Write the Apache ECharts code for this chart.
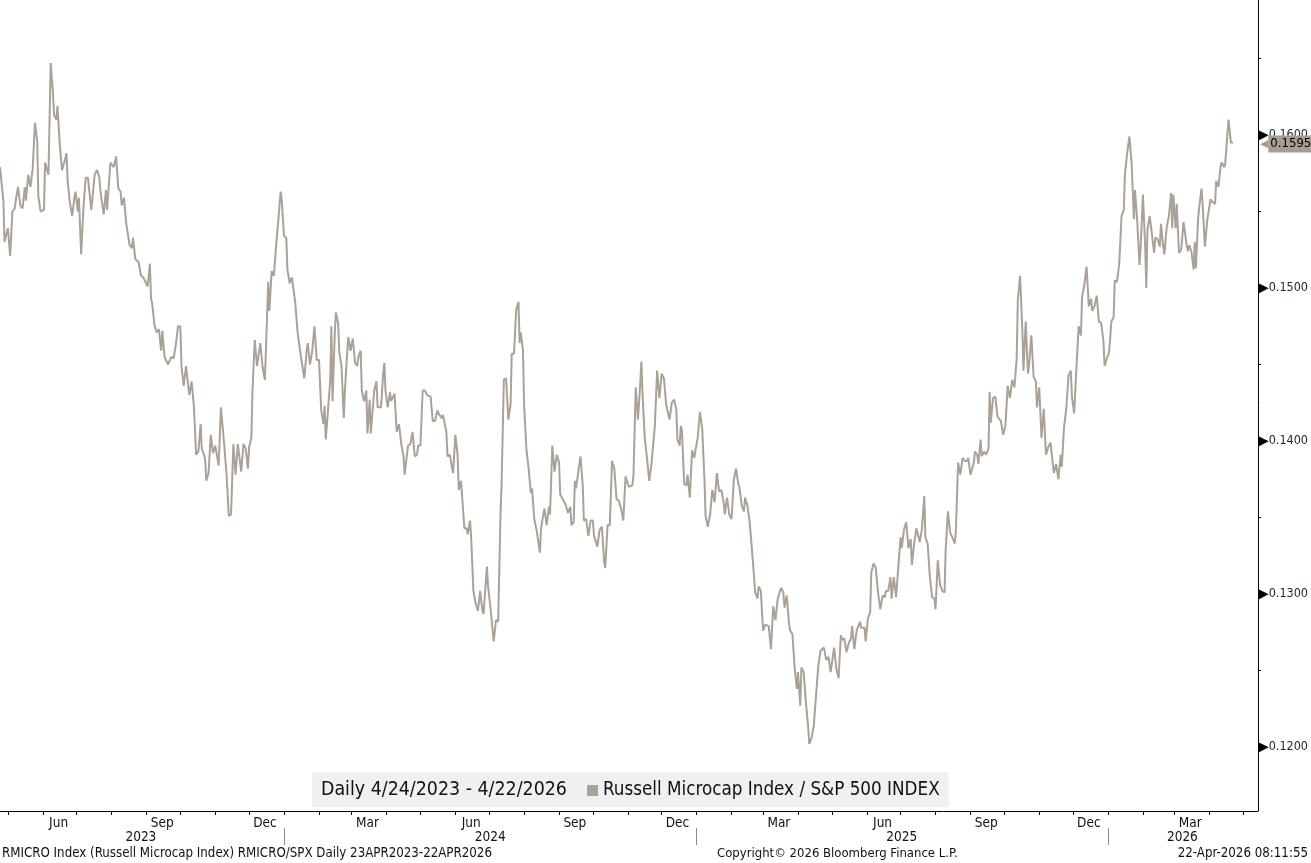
<!DOCTYPE html>
<html><head><meta charset="utf-8">
<script src="https://cdn.jsdelivr.net/npm/echarts@6/dist/echarts.min.js"></script>
<style>html,body{margin:0;padding:0;background:#fff}#c{width:1311px;height:863px}</style>
</head><body><div id="c"></div>
<script>
// x: calendar days after 2023-04-24 ; y: RMICRO/SPX ratio
const startDate = '2023-04-24';
const dayOffsets = [
  0,3,4,7,9,11,13,14,16,18,
  20,22,23,25,27,29,31,33,34,36,
  39,40,43,45,47,48,50,51,53,55,
  57,59,60,62,64,66,67,69,70,72,
  74,76,78,81,84,86,88,89,92,94,
  95,98,99,101,103,105,107,108,110,112,
  115,117,118,120,123,125,127,131,133,134,
  135,137,139,141,143,144,146,149,152,154,
  156,158,160,161,163,165,168,170,172,174,
  176,178,179,181,182,183,185,187,189,191,
  194,196,199,201,203,205,207,208,209,211,
  214,216,218,220,221,223,224,226,228,230,
  231,233,235,237,238,239,241,243,245,247,
  249,250,252,254,255,257,259,262,264,267,
  268,270,272,273,275,277,279,281,283,285,
  287,288,289,291,293,294,295,297,298,300,
  301,303,305,306,308,309,311,313,315,317,
  318,320,321,323,325,326,328,329,332,334,
  335,338,340,341,342,344,346,347,350,352,
  354,356,358,359,360,362,364,366,368,370,
  371,373,375,377,379,382,384,386,388,389,
  392,393,396,397,399,402,404,406,407,409,
  412,414,415,417,418,420,422,424,426,428,
  429,432,433,435,438,440,442,444,445,447,
  449,451,453,454,456,458,460,461,462,464,
  465,467,469,471,472,474,476,479,480,483,
  485,487,488,490,492,494,496,497,500,502,
  504,506,507,509,510,511,515,517,518,520,
  522,524,526,527,528,530,532,534,536,537,
  539,541,543,545,547,549,
  551,553,555,557,558,561,562,564,566,568,
  569,570,572,574,576,578,579,581,583,585,
  587,589,591,592,594,596,598,600,601,603,
  604,605,607,609,610,612,614,616,617,619,
  621,623,625,626,628,630,632,633,634,636,
  638,640,642,643,645,647,649,651,653,655,
  656,658,660,661,663,665,668,670,672,673,
  675,677,679,682,684,686,688,690,691,693,
  695,696,698,700,701,703,705,707,708,710,
  711,713,715,717,718,720,722,724,726,728,
  729,731,733,735,737,738,740,742,744,746,
  747,749,751,753,755,756,758,760,763,764,
  767,768,770,772,773,775,777,779,781,783,
  785,786,788,790,791,793,795,797,799,800,
  802,804,806,808,809,811,813,816,818,820,
  821,823,825,827,829,830,832,834,836,838,
  839,841,843,845,847,848,850,852,854,856,
  858,859,861,864,865,867,868,870,871,873,
  875,877,878,879,881,883,885,886,888,890,
  892,894,896,898,900,902,903,905,907,908,
  910,912,913,915,917,919,920,922,924,926,
  928,930,932,933,935,937,939,941,942,944,
  946,948,950,951,953,955,957,959,960,962,
  964,966,968,969,971,973,975,977,979,980,
  982,984,986,988,989,991,993,995,997,998,
  1000,1002,1004,1006,1007,1009,1011,1012,1014,1016,
  1017,1018,1020,1022,1024,1025,1027,1029,1030,1032,
  1033,1035,1037,1039,1040,1041,1043,1044,1046,1048,
  1050,1051,1053,1054,1055,1057,1059,1060,1061,1063,
  1064,1066,1067,1069,1071,1072,1074,1076,1078,1079,
  1081,1083,1084,1086,1087,1089,1090,1092,1094
];
const ratio = [
  0.1579,0.1557,0.1530,0.1539,0.1521,0.1550,0.1552,0.1557,0.1566,0.1554,
  0.1552,0.1566,0.1557,0.1574,0.1566,0.1578,0.1608,0.1596,0.1560,0.1550,
  0.1551,0.1582,0.1574,0.1647,0.1627,0.1613,0.1610,0.1619,0.1594,0.1577,
  0.1582,0.1588,0.1570,0.1556,0.1547,0.1559,0.1563,0.1550,0.1559,0.1522,
  0.1552,0.1572,0.1572,0.1551,0.1574,0.1577,0.1573,0.1564,0.1548,0.1564,
  0.1551,0.1582,0.1581,0.1579,0.1586,0.1565,0.1563,0.1554,0.1559,0.1542,
  0.1528,0.1526,0.1533,0.1519,0.1517,0.1508,0.1507,0.1501,0.1516,0.1493,
  0.1490,0.1476,0.1471,0.1473,0.1459,0.1472,0.1455,0.1450,0.1455,0.1454,
  0.1463,0.1475,0.1475,0.1449,0.1436,0.1449,0.1430,0.1439,0.1423,0.1391,
  0.1393,0.1411,0.1395,0.1391,0.1388,0.1374,0.1379,0.1404,0.1392,0.1397,
  0.1384,0.1422,0.1397,0.1378,0.1351,0.1352,0.1398,0.1397,0.1378,0.1398,
  0.1380,0.1398,0.1395,0.1382,0.1396,0.1402,0.1433,0.1466,0.1449,0.1459,
  0.1464,0.1448,0.1440,0.1483,0.1504,0.1485,0.1511,0.1508,0.1528,0.1545,
  0.1563,0.1557,0.1534,0.1533,0.1512,0.1503,0.1507,0.1490,0.1471,0.1455,
  0.1455,0.1441,0.1459,0.1464,0.1450,0.1459,0.1475,0.1453,0.1453,0.1420,
  0.1411,0.1423,0.1401,0.1420,0.1440,0.1475,0.1426,0.1470,0.1484,0.1477,
  0.1458,0.1449,0.1415,0.1433,0.1457,0.1468,0.1459,0.1467,0.1451,0.1449,
  0.1455,0.1459,0.1433,0.1426,0.1433,0.1405,0.1427,0.1405,0.1433,0.1439,
  0.1422,0.1422,0.1444,0.1451,0.1433,0.1422,0.1432,0.1426,0.1431,0.1406,
  0.1411,0.1398,0.1390,0.1378,0.1377,0.1397,0.1398,0.1406,0.1390,0.1391,
  0.1397,0.1397,0.1433,0.1433,0.1430,0.1429,0.1413,0.1413,0.1420,0.1418,
  0.1415,0.1417,0.1406,0.1390,0.1391,0.1379,0.1404,0.1391,0.1368,0.1374,
  0.1343,0.1343,0.1339,0.1348,0.1337,0.1302,0.1294,0.1289,0.1302,0.1289,
  0.1287,0.1318,0.1305,0.1292,0.1269,0.1283,0.1282,0.1351,0.1371,0.1440,
  0.1441,0.1414,0.1424,0.1457,0.1457,0.1486,0.1491,0.1464,0.1471,0.1459,
  0.1423,0.1395,0.1382,0.1366,0.1369,0.1349,0.1342,0.1327,0.1343,0.1356,
  0.1345,0.1357,0.1352,0.1397,0.1380,0.1391,0.1386,0.1365,0.1361,0.1358,
  0.1353,0.1357,0.1345,0.1347,0.1374,0.1369,0.1390,0.1371,0.1348,0.1349,
  0.1338,0.1348,0.1348,0.1338,0.1339,0.1331,0.1342,0.1344,0.1321,0.1317,
  0.1345,0.1345,0.1387,0.1382,0.1362,0.1361,
  0.1356,0.1348,0.1377,0.1372,0.1370,0.1371,0.1377,0.1435,0.1414,0.1437,
  0.1452,0.1432,0.1402,0.1389,0.1374,0.1385,0.1385,0.1410,0.1446,0.1428,
  0.1444,0.1441,0.1424,0.1423,0.1414,0.1425,0.1427,0.1421,0.1401,0.1397,
  0.1410,0.1407,0.1372,0.1371,0.1378,0.1363,0.1394,0.1389,0.1394,0.1402,
  0.1419,0.1408,0.1375,0.1351,0.1344,0.1352,0.1368,0.1368,0.1360,0.1379,
  0.1367,0.1368,0.1360,0.1352,0.1363,0.1352,0.1349,0.1374,0.1382,0.1372,
  0.1370,0.1358,0.1354,0.1363,0.1358,0.1348,0.1321,0.1301,0.1297,0.1305,
  0.1302,0.1276,0.1280,0.1279,0.1264,0.1292,0.1283,0.1297,0.1297,0.1304,
  0.1301,0.1291,0.1299,0.1281,0.1276,0.1274,0.1252,0.1238,0.1249,0.1227,
  0.1252,0.1249,0.1229,0.1213,0.1202,0.1206,0.1214,0.1234,0.1253,0.1263,
  0.1264,0.1265,0.1257,0.1259,0.1249,0.1249,0.1265,0.1251,0.1245,0.1273,
  0.1270,0.1271,0.1262,0.1268,0.1271,0.1279,0.1264,0.1276,0.1282,0.1278,
  0.1278,0.1269,0.1284,0.1288,0.1314,0.1320,0.1317,0.1301,0.1290,0.1299,
  0.1298,0.1302,0.1302,0.1311,0.1297,0.1311,0.1298,0.1318,0.1337,0.1330,
  0.1342,0.1347,0.1330,0.1336,0.1319,0.1333,0.1343,0.1334,0.1343,0.1364,
  0.1337,0.1333,0.1311,0.1298,0.1297,0.1290,0.1322,0.1306,0.1302,0.1301,
  0.1329,0.1354,0.1340,0.1337,0.1333,0.1340,0.1386,0.1378,0.1389,0.1387,
  0.1387,0.1389,0.1378,0.1386,0.1393,0.1391,0.1385,0.1401,0.1390,0.1393,
  0.1391,0.1395,0.1432,0.1412,0.1428,0.1429,0.1416,0.1416,0.1413,0.1404,
  0.1410,0.1436,0.1428,0.1440,0.1435,0.1454,0.1492,0.1508,0.1473,0.1446,
  0.1478,0.1444,0.1450,0.1469,0.1442,0.1439,0.1422,0.1435,0.1402,0.1421,
  0.1391,0.1396,0.1399,0.1399,0.1379,0.1385,0.1375,0.1391,0.1383,0.1409,
  0.1421,0.1443,0.1446,0.1429,0.1418,0.1448,0.1475,0.1469,0.1494,0.1502,
  0.1514,0.1488,0.1493,0.1485,0.1488,0.1495,0.1478,0.1477,0.1465,0.1449,
  0.1454,0.1458,0.1478,0.1481,0.1505,0.1504,0.1516,0.1547,0.1551,0.1574,
  0.1588,0.1599,0.1581,0.1545,0.1564,0.1543,0.1515,0.1527,0.1561,0.1527,
  0.1500,0.1538,0.1547,0.1535,0.1523,0.1533,0.1532,0.1527,0.1542,0.1527,
  0.1522,0.1539,0.1547,0.1562,0.1539,0.1561,0.1539,0.1555,0.1523,0.1525,
  0.1543,0.1543,0.1527,0.1524,0.1528,0.1524,0.1512,0.1530,0.1513,0.1546,
  0.1553,0.1565,0.1554,0.1527,0.1544,0.1543,0.1558,0.1556,0.1555,0.1570,
  0.1566,0.1580,0.1582,0.1579,0.1581,0.1601,0.1610,0.1595,0.1595
];
const axisStart = '2023-04-24';
const axisEnd = '2026-05-14';
const monthTicks = [
  '2023-05-01','2023-06-01','2023-07-01','2023-08-01','2023-09-01','2023-10-01','2023-11-01','2023-12-01',
  '2024-01-01','2024-02-01','2024-03-01','2024-04-01','2024-05-01','2024-06-01','2024-07-01','2024-08-01',
  '2024-09-01','2024-10-01','2024-11-01','2024-12-01','2025-01-01','2025-02-01','2025-03-01','2025-04-01',
  '2025-05-01','2025-06-01','2025-07-01','2025-08-01','2025-09-01','2025-10-01','2025-11-01','2025-12-01',
  '2026-01-01','2026-02-01','2026-03-01','2026-04-01','2026-05-01'
];
const monthLabelDates = ['2023-06-15','2023-09-15','2023-12-15','2024-03-15','2024-06-15','2024-09-15',
  '2024-12-15','2025-03-15','2025-06-15','2025-09-15','2025-12-15','2026-03-15'];
const monthLabelNames = ['Jun','Sep','Dec','Mar','Jun','Sep','Dec','Mar','Jun','Sep','Dec','Mar'];
const yearLabelDates = ['2023-08-27','2024-07-02','2025-07-02','2026-03-08'];
const yearLabelNames = ['2023','2024','2025','2026'];
const yearSeparators = ['2024-01-01','2025-01-01','2026-01-01'];
const yMajorTicks = [0.12, 0.13, 0.14, 0.15, 0.16];
const yMinorTicks = [0.125, 0.135, 0.145, 0.155, 0.165];
const yMin = 0.11582, yMax = 0.16882;
const seriesName = 'Russell Microcap Index / S&P 500 INDEX';
const rangeText = 'Daily 4/24/2023 - 4/22/2026';
const footerLeft = 'RMICRO Index (Russell Microcap Index) RMICRO/SPX Daily 23APR2023-22APR2026';
const footerMid = 'Copyright\u00A9 2026 Bloomberg Finance L.P.';
const footerRight = '22-Apr-2026 08:11:55';

const FONT = '"DejaVu Sans Condensed", "Liberation Sans", sans-serif';
const LINE = '#aaa197';
const TAG = '#a79e93';
function ts(s) { const p = s.split('-').map(Number); return new Date(p[0], p[1] - 1, p[2]).getTime(); }
const s0 = startDate.split('-').map(Number);
const seriesData = dayOffsets.map((d, i) => [new Date(s0[0], s0[1] - 1, s0[2] + d).getTime(), ratio[i]]);
const monthLabelTs = monthLabelDates.map(ts);
const yearLabelTs = yearLabelDates.map(ts);
function nameFor(v, tsList, names) {
  let best = 0, bd = Infinity;
  tsList.forEach((t, i) => { const dd = Math.abs(t - v); if (dd < bd) { bd = dd; best = i; } });
  return names[best];
}
const lastValue = ratio[ratio.length - 1];

const chart = echarts.init(document.getElementById('c'), null, { renderer: 'canvas' });
chart.setOption({
  animation: false,
  backgroundColor: '#fff',
  textStyle: { fontFamily: FONT },
  grid: { left: 0, right: 52, top: 0, bottom: 52, containLabel: false },
  title: [
    { text: rangeText, left: 321, top: 780, padding: 0, textStyle: { fontFamily: FONT, fontSize: 19.4, fontWeight: 'normal', color: '#111' } },
    { text: footerLeft, left: 2, top: 847, padding: 0, textStyle: { fontFamily: FONT, fontSize: 13.2, fontWeight: 'normal', color: '#111' } },
    { text: footerMid, left: 717, top: 847, padding: 0, textStyle: { fontFamily: FONT, fontSize: 13, fontWeight: 'normal', color: '#111' } },
    { text: footerRight, right: 3, top: 847, padding: 0, textStyle: { fontFamily: FONT, fontSize: 13.2, fontWeight: 'normal', color: '#111' } }
  ],
  legend: {
    left: 312, top: 772,
    padding: [9, 9, 7, 275],
    backgroundColor: '#f0f0f0',
    icon: 'rect', itemWidth: 11, itemHeight: 11, itemGap: 5,
    textStyle: { fontFamily: FONT, fontSize: 18.7, color: '#111' },
    data: [seriesName]
  },
  xAxis: [
    {
      type: 'value', min: ts(axisStart), max: ts(axisEnd),
      axisLine: { show: true, lineStyle: { color: '#000', width: 1 } },
      axisTick: { show: true, customValues: monthTicks.map(ts), length: 4, lineStyle: { color: '#000' } },
      axisLabel: {
        show: true, customValues: monthLabelTs, margin: 5, color: '#111', fontSize: 13.5, fontFamily: FONT,
        formatter: v => nameFor(v, monthLabelTs, monthLabelNames)
      },
      splitLine: { show: false }
    },
    {
      type: 'value', min: ts(axisStart), max: ts(axisEnd), position: 'bottom', offset: 17,
      axisLine: { show: false },
      axisTick: { show: true, customValues: yearSeparators.map(ts), length: 17, lineStyle: { color: '#8a8a8a' } },
      axisLabel: {
        show: true, customValues: yearLabelTs, margin: 2, color: '#111', fontSize: 13.5, fontFamily: FONT,
        formatter: v => nameFor(v, yearLabelTs, yearLabelNames)
      },
      splitLine: { show: false }
    }
  ],
  yAxis: {
    type: 'value', position: 'right', min: yMin, max: yMax,
    axisLine: { show: true, lineStyle: { color: '#000', width: 1 } },
    axisTick: { show: true, customValues: yMinorTicks, length: 3, lineStyle: { color: '#000' } },
    axisLabel: {
      show: true, customValues: yMajorTicks, margin: 0, color: '#1a2433', fontSize: 12.5, fontFamily: FONT,
      formatter: v => '{t|\u25B6}{v|' + v.toFixed(4) + '}',
      rich: {
        t: { fontSize: 14, color: '#000', fontFamily: '"DejaVu Sans", sans-serif', verticalAlign: 'middle' },
        v: { fontSize: 12.5, color: '#1a2433', fontFamily: FONT, verticalAlign: 'middle' }
      }
    },
    splitLine: { show: false }
  },
  series: [{
    name: seriesName, type: 'line', xAxisIndex: 0, data: seriesData,
    showSymbol: false, symbol: 'none', smooth: false, clip: false,
    lineStyle: { color: LINE, width: 2 }, itemStyle: { color: LINE },
    markLine: {
      silent: true, symbol: 'none', animation: false,
      lineStyle: { width: 0, color: 'rgba(0,0,0,0)' },
      label: {
        show: true, position: 'end', distance: 2, verticalAlign: 'middle', align: 'left', offset: [0, 9],
        formatter: () => '{a|\u25C0}{b|' + lastValue.toFixed(4) + '}',
        rich: {
          a: { color: TAG, fontSize: 11, fontFamily: '"DejaVu Sans", sans-serif', verticalAlign: 'middle', height: 16 },
          b: { backgroundColor: TAG, color: '#000', fontSize: 13, fontFamily: FONT, padding: [2, 3, 2, 2], height: 13, verticalAlign: 'middle' }
        }
      },
      data: [{ yAxis: lastValue }]
    }
  }]
});
</script>
</body></html>
